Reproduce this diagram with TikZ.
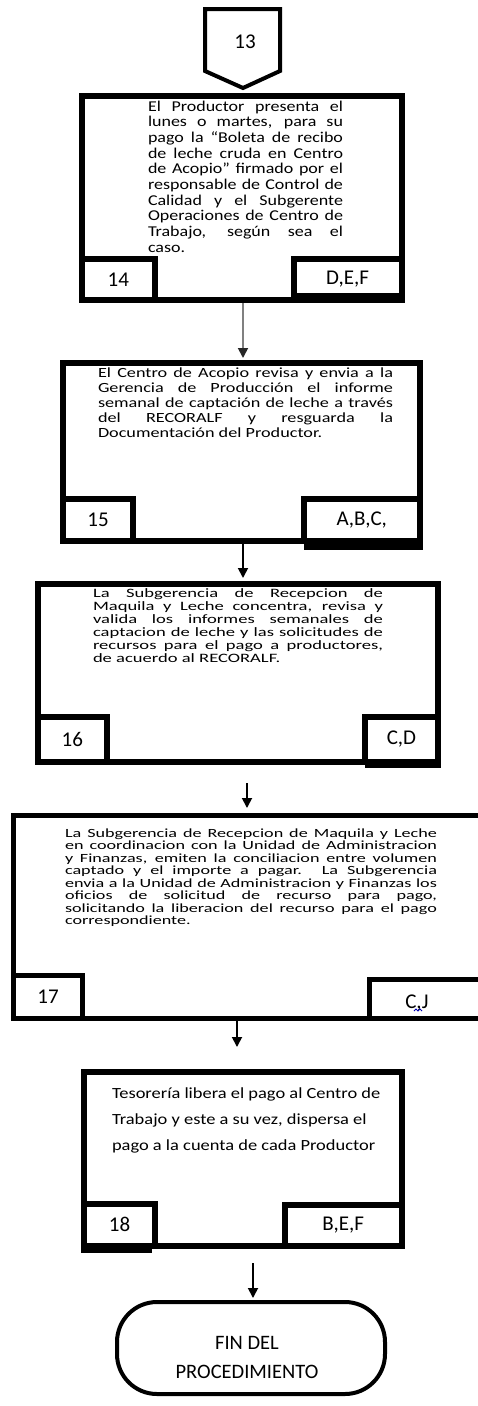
\documentclass[tikz,border=0pt]{standalone}
\usepackage{fontspec}
\setmainfont{Carlito}
\newfontfamily\wideA[FakeStretch=1.2]{Carlito}
\newfontfamily\wideB[FakeStretch=1.3]{Carlito}
\newfontfamily\wideC[FakeStretch=1.45]{Carlito}
\newfontfamily\wideD[FakeStretch=1.19]{Carlito}
\usetikzlibrary{arrows.meta}
\newcommand{\jl}[1]{\makebox[\linewidth][s]{#1}\\}

\begin{document}
\begin{tikzpicture}[x=1pt,y=-1pt,
  stepbox/.style={draw,line width=6pt,inner sep=0pt,outer sep=0pt},
  tagbox/.style={draw,line width=6pt,inner sep=0pt,outer sep=0pt,font=\fontsize{21}{25}\selectfont},
  steptext/.style={anchor=base west,inner sep=0pt,outer sep=0pt},
  flow/.style={-{Triangle[length=10pt,width=10pt]},line width=1.8pt}]
\useasboundingbox (0,0) rectangle (478,1406);

% Connector from page 13
\draw[line width=4pt,line join=miter] (205,9) -- (280,9) -- (280,71) -- (243,88) -- (205,71) -- cycle;
\node (n13) at (245,42) {\fontsize{21}{25}\selectfont 13};

% Step 14
\node[stepbox,minimum width=320pt,minimum height=204pt] (box14) at (241.5,198) {};
\node[tagbox,anchor=south west,minimum width=73.5pt,minimum height=41.5pt] (id14) at (box14.south west) {14};
\node[tagbox,anchor=south east,minimum width=108pt,minimum height=41.5pt] (role14) at (box14.south east) {D,E,F};
\fill (role14.south west) ++(0,-3) rectangle ++(111,-4);
\node[steptext] (txt14) at (148,111) {\parbox[t]{195pt}{\wideA\fontsize{15}{15.7}\selectfont
  \jl{El Productor presenta el}
  \jl{lunes o martes, para su}
  \jl{pago la “Boleta de recibo}
  \jl{de leche cruda en Centro}
  \jl{de Acopio” firmado por el}
  \jl{responsable de Control de}
  \jl{Calidad y el Subgerente}
  \jl{Operaciones de Centro de}
  \jl{Trabajo, según sea el}
  caso.}};

% Step 15
\node[stepbox,minimum width=357pt,minimum height=178.5pt] (box15) at (241.5,451.75) {};
\node[tagbox,anchor=south west,minimum width=70pt,minimum height=42pt] (id15) at (box15.south west) {15};
\node[tagbox,anchor=south east,minimum width=116.5pt,minimum height=42pt] (role15) at (box15.south east) {A,B,C,};
\fill (role15.south west) rectangle ++(119.5,9);
\node[steptext] (txt15) at (98,377) {\parbox[t]{295pt}{\wideB\fontsize{14}{15}\selectfont
  \jl{El Centro de Acopio revisa y envia a la}
  \jl{Gerencia de Producción el informe}
  \jl{semanal de captación de leche a través}
  \jl{del RECORALF y resguarda la}
  Documentación del Productor.}};

% Step 16
\node[stepbox,minimum width=400pt,minimum height=178pt] (box16) at (238,672.5) {};
\node[tagbox,anchor=south west,minimum width=68.5pt,minimum height=44.5pt] (id16) at (box16.south west) {16};
\node[tagbox,anchor=south east,minimum width=73pt,minimum height=44.5pt] (role16) at (box16.south east) {C,D};
\fill (role16.south west) rectangle ++(76,6.5);
\node[steptext] (txt16) at (93,597) {\parbox[t]{290pt}{\wideC\fontsize{12.8}{13}\selectfont
  \jl{La Subgerencia de Recepcion de}
  \jl{Maquila y Leche concentra, revisa y}
  \jl{valida los informes semanales de}
  \jl{captacion de leche y las solicitudes de}
  \jl{recursos para el pago a productores,}
  de acuerdo al RECORALF.}};

% Step 17
\node[stepbox,line width=5pt,minimum width=476.5pt,minimum height=202.5pt] (box17) at (251.75,916.75) {};
\node[tagbox,line width=5pt,anchor=south west,minimum width=69pt,minimum height=43pt] (id17) at (box17.south west) {17};
\node[tagbox,line width=5pt,anchor=south east,minimum width=120.5pt,minimum height=38.5pt] (role17) at (box17.south east) {};
\node (tag17) at (417,1003) {\fontsize{21}{25}\selectfont C,J};
\draw[blue!70!black,line width=0.8pt] (414,1011) -- (416,1009) -- (418,1011) -- (420,1009) -- (422,1011);
\node[steptext] (txt17) at (65,837) {\parbox[t]{372pt}{\wideC\fontsize{12.5}{12.5}\selectfont
  \jl{La Subgerencia de Recepcion de Maquila y Leche}
  \jl{en coordinacion con la Unidad de Administracion}
  \jl{y Finanzas, emiten la conciliacion entre volumen}
  \jl{captado y el importe a pagar. La Subgerencia}
  \jl{envia a la Unidad de Administracion y Finanzas los}
  \jl{oficios de solicitud de recurso para pago,}
  \jl{solicitando la liberacion del recurso para el pago}
  correspondiente.}};

% Step 18
\node[stepbox,minimum width=317.5pt,minimum height=174pt] (box18) at (242.75,1158.5) {};
\node[tagbox,anchor=south west,minimum width=71pt,minimum height=41.5pt] (id18) at (box18.south west) {18};
\node[tagbox,anchor=south east,minimum width=116.5pt,minimum height=41pt] (role18) at (box18.south east) {B,E,F};
\fill (id18.south west) ++(-3,0) rectangle ++(71,7.5);
\node[steptext] (txt18) at (112,1098) {\parbox[t]{280pt}{\wideD\fontsize{15.5}{26}\selectfont\raggedright
  Tesorería libera el pago al Centro de\\
  Trabajo y este a su vez, dispersa el\\
  pago a la cuenta de cada Productor}};

% End
\node[draw,line width=4pt,rounded corners=40pt,minimum width=268pt,minimum height=92pt,outer sep=0pt] (fin) at (251,1348) {};
\node[font=\fontsize{20.5}{29}\selectfont,align=center] (fintxt) at (247,1357) {FIN DEL\\PROCEDIMIENTO};

% Arrows
\coordinate (c14) at (243,0);
\coordinate (c15) at (243,0);
\coordinate (c16) at (247,0);
\coordinate (c17) at (237,0);
\coordinate (c18) at (253,0);
\draw[flow,gray,-{Triangle[length=10pt,width=10pt,color=black!85]},shorten <=3pt,shorten >=4.5pt] (box14.south -| c14) -- (box15.north -| c14);
\foreach \from/\to/\col/\pre/\post in {box15/box16/c15/3/5.5, box16/box17/c16/21.5/7.5, box17/box18/c17/2.5/24.5, box18/fin/c18/17.5/4} {
  \draw[flow,shorten <=\pre pt,shorten >=\post pt] (\from.south -| \col) -- (\to.north -| \col);
}
\end{tikzpicture}
\end{document}
